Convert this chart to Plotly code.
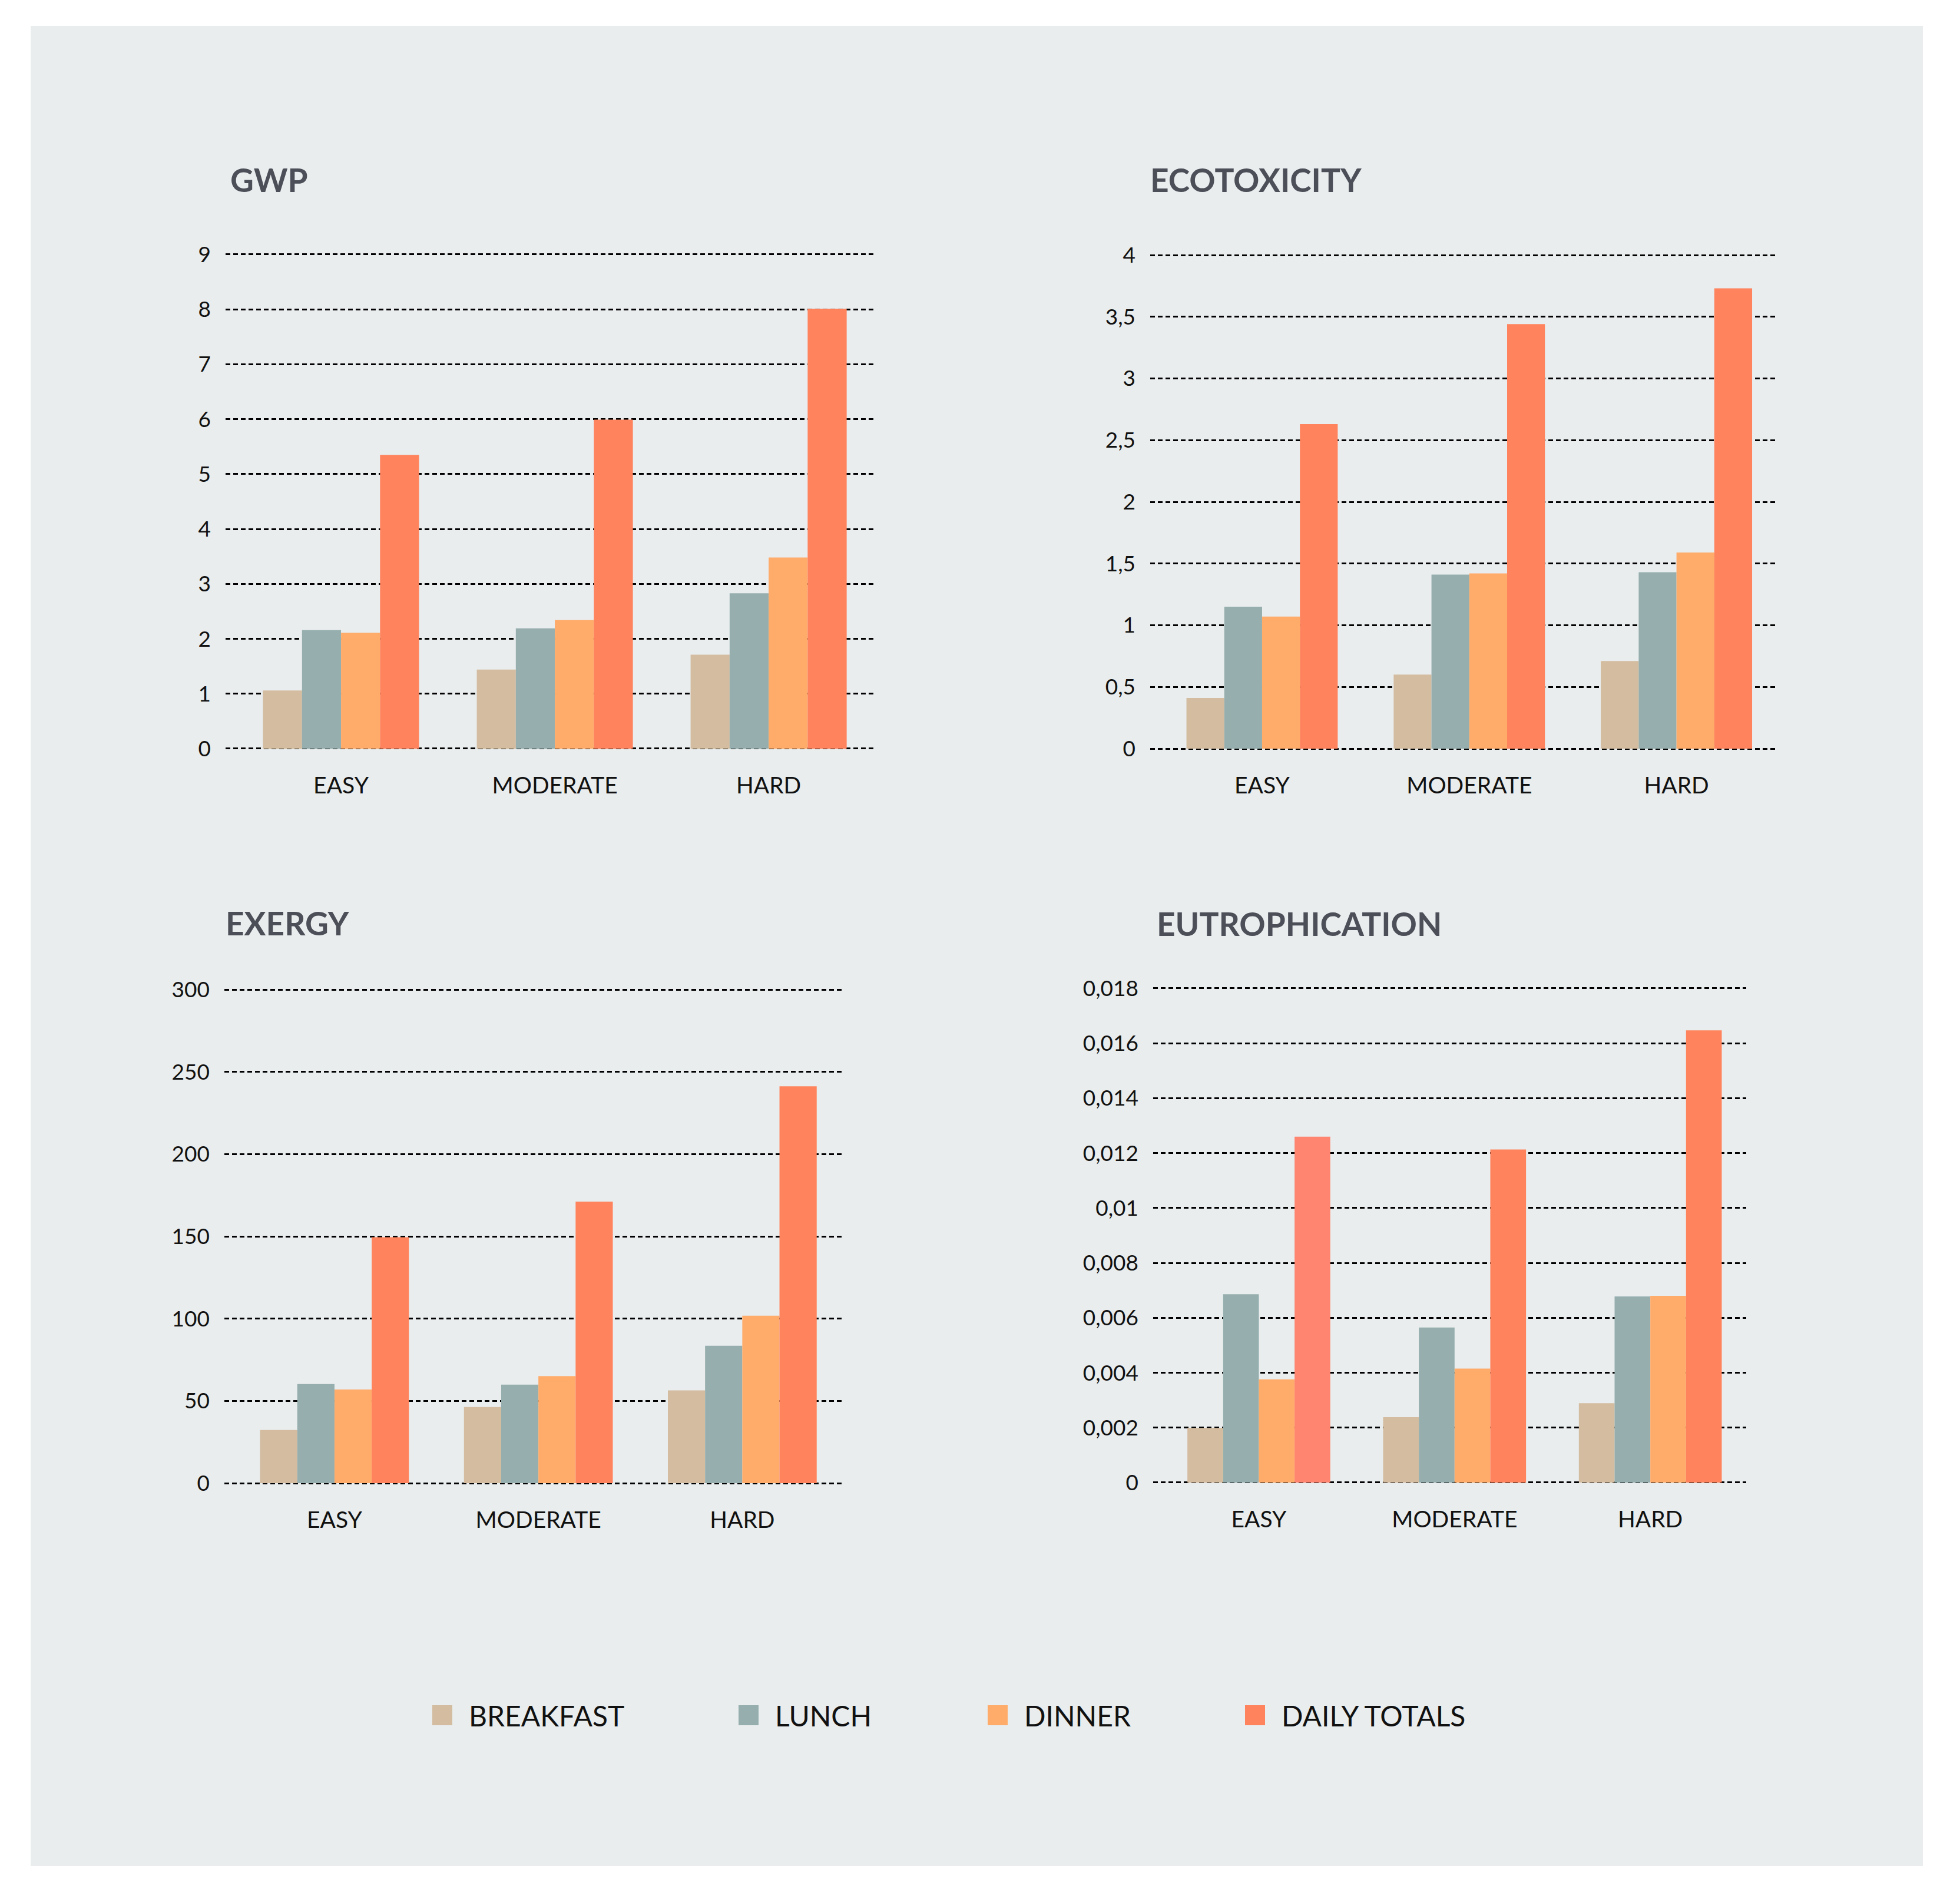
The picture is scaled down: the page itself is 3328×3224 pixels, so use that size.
import plotly.graph_objects as go

W, H = 3328, 3224

CATEGORIES = ["EASY", "MODERATE", "HARD"]
SERIES = ["BREAKFAST", "LUNCH", "DINNER", "DAILY TOTALS"]

gwp_breakfast = [1.06, 1.44, 1.71]
gwp_lunch = [2.16, 2.19, 2.83]
gwp_dinner = [2.11, 2.34, 3.48]
gwp_total = [5.35, 5.99, 8.01]

eco_breakfast = [0.41, 0.60, 0.71]
eco_lunch = [1.15, 1.41, 1.43]
eco_dinner = [1.07, 1.42, 1.59]
eco_total = [2.63, 3.44, 3.73]

exe_breakfast = [32.3, 46.3, 56.4]
exe_lunch = [60.2, 59.9, 83.5]
exe_dinner = [56.9, 65.1, 101.8]
exe_total = [149.5, 171.1, 241.2]

eut_breakfast = [0.00199, 0.00238, 0.00289]
eut_lunch = [0.00686, 0.00565, 0.00678]
eut_dinner = [0.00376, 0.00415, 0.00680]
eut_total = [0.01260, 0.01213, 0.01647]

COLORS = ["#D3BC9F", "#96AFAE", "#FFAC6B", "#FF835D"]
EUT_EASY_TOTAL = "#FF8570"
PANEL = "#E9EDEE"
TITLE_COLOR = "#4C4F58"
FONT = "Lato"

# a little room above the top tick and below zero so the edge gridlines get drawn
PAD = 0.006


def px_x(v):
    return v / W


def px_y(v):
    return 1 - v / H


# (title, series values, y max, dtick, x domain px, y px of max / of zero, title pos px)
panels = [
    ("GWP", [gwp_breakfast, gwp_lunch, gwp_dinner, gwp_total], 9, 1,
     (383, 1483), (432, 1271), (389, 305)),
    ("ECOTOXICITY", [eco_breakfast, eco_lunch, eco_dinner, eco_total], 4, 0.5,
     (1953, 3019), (433, 1271), (1951, 305)),
    ("EXERGY", [exe_breakfast, exe_lunch, exe_dinner, exe_total], 300, 50,
     (381, 1430), (1680, 2518), (381, 1567)),
    ("EUTROPHICATION", [eut_breakfast, eut_lunch, eut_dinner, eut_total], 0.018, 0.002,
     (1958, 2965), (1678, 2517), (1962, 1568)),
]

fig = go.Figure()
layout_axes = {}
annotations = []

for i, (title, values, ymax, dtick, xd, yd, tpos) in enumerate(panels):
    n = "" if i == 0 else str(i + 1)
    for j, (name, vals) in enumerate(zip(SERIES, values)):
        color = COLORS[j]
        if title == "EUTROPHICATION" and name == "DAILY TOTALS":
            color = [EUT_EASY_TOTAL, COLORS[j], COLORS[j]]
        fig.add_trace(
            go.Bar(
                x=CATEGORIES,
                y=vals,
                name=name,
                marker=dict(color=color, line=dict(width=0)),
                xaxis="x" + n,
                yaxis="y" + n,
                showlegend=False,
                hoverinfo="skip",
            )
        )
    span = yd[1] - yd[0]
    layout_axes["xaxis" + n] = dict(
        domain=[px_x(xd[0]), px_x(xd[1])],
        anchor="y" + n,
        type="category",
        range=[-0.54, 2.49],
        showgrid=False,
        zeroline=False,
        showline=False,
        ticks="",
        ticklabelstandoff=31,
        tickfont=dict(family=FONT, size=39, color="#111111"),
        automargin=False,
    )
    layout_axes["yaxis" + n] = dict(
        domain=[px_y(yd[1] + PAD * span), px_y(yd[0] - PAD * span)],
        anchor="x" + n,
        range=[-PAD * ymax, ymax * (1 + PAD)],
        dtick=dtick,
        tick0=0,
        showgrid=True,
        gridcolor="#000000",
        gridwidth=3,
        griddash="8px,5px",
        zeroline=False,
        showline=False,
        ticks="",
        ticklabelstandoff=24,
        tickfont=dict(family=FONT, size=37, color="#111111"),
        automargin=False,
    )
    annotations.append(
        dict(
            text="<b>%s</b>" % title,
            x=px_x(tpos[0]),
            y=px_y(tpos[1]),
            xref="paper",
            yref="paper",
            xanchor="left",
            yanchor="middle",
            showarrow=False,
            font=dict(family=FONT, size=55, color=TITLE_COLOR),
        )
    )

# legend drawn by hand so the swatches can match the large squares
shapes = [
    dict(type="rect", xref="paper", yref="paper", layer="below",
         x0=px_x(52), x1=px_x(3265), y0=px_y(3168), y1=px_y(44),
         fillcolor=PANEL, line=dict(width=0)),
]
legend_x = [734, 1254, 1677, 2114]
legend_y = 2912
for name, color, lx in zip(SERIES, COLORS, legend_x):
    shapes.append(
        dict(type="rect", xref="paper", yref="paper",
             x0=px_x(lx), x1=px_x(lx + 34),
             y0=px_y(legend_y + 17), y1=px_y(legend_y - 17),
             fillcolor=color, line=dict(width=0))
    )
    annotations.append(
        dict(
            text=name,
            x=px_x(lx + 60),
            y=px_y(legend_y),
            xref="paper",
            yref="paper",
            xanchor="left",
            yanchor="middle",
            showarrow=False,
            font=dict(family=FONT, size=48, color="#111111"),
        )
    )

fig.update_layout(
    width=W,
    height=H,
    margin=dict(l=0, r=0, t=0, b=0),
    paper_bgcolor="#FFFFFF",
    plot_bgcolor="rgba(0,0,0,0)",
    barmode="group",
    bargap=0.27,
    bargroupgap=0,
    separators=", ",
    showlegend=False,
    shapes=shapes,
    annotations=annotations,
    hovermode=False,
    **layout_axes,
)

fig.write_html(
    "out.html",
    config={"displayModeBar": False},
    post_script="document.body.style.margin = '0';",
)
